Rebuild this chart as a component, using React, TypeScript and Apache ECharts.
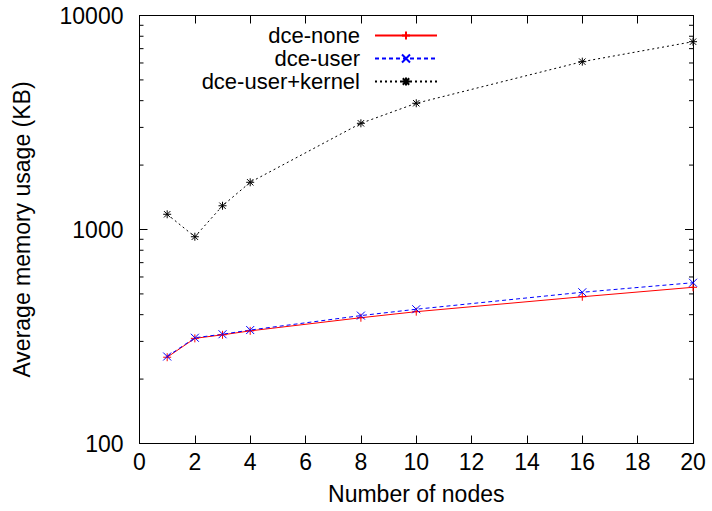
import React, { useEffect, useRef } from "react";
import * as echarts from "echarts";

const nodes = [1, 2, 3, 4, 8, 10, 16, 20];
const dceNone = [253, 310, 322, 336, 387, 413, 485, 537];
const dceUser = [255, 312, 324, 339, 396, 424, 509, 564];
const dceUserKernel = [1178, 925, 1291, 1662, 3135, 3890, 6085, 7545];
const xTicks = [0, 2, 4, 6, 8, 10, 12, 14, 16, 18, 20];
const yMinorTicks = [200, 300, 400, 500, 600, 700, 800, 900, 2000, 3000, 4000, 5000, 6000, 7000, 8000, 9000];

const FONT = "Liberation Sans, Arial, sans-serif";
const FS = 23;

const PLUS = "path://M0,5L10,5M5,0L5,10";
const CROSS = "path://M0,0L10,10M0,10L10,0";
const STAR = "path://M0,5L10,5M5,0L5,10M1,1L9,9M1,9L9,1";

export default function App() {
  const ref = useRef<HTMLDivElement>(null);
  useEffect(() => {
    if (!ref.current) return;
    const chart = echarts.init(ref.current, null, { renderer: "svg" });
    const pairs = (ys: number[]) => nodes.map((x, i) => [x, ys[i]]);
    const axisLine = { show: true, onZero: false, lineStyle: { color: "#000", width: 1 } };
    const mkLine = (name: string, ys: number[], color: string, type: any, symbol: string) => ({
      name,
      type: "line",
      data: pairs(ys),
      xAxisIndex: 0,
      yAxisIndex: 0,
      symbol,
      symbolSize: 8,
      lineStyle: { color, width: 1, type },
      itemStyle: { color: "none", borderColor: color, borderWidth: 1 },
      emphasis: { disabled: true },
      z: 3,
    });
    chart.setOption({
      animation: false,
      grid: { left: 139.5, right: 19, top: 15.5, bottom: 67.5, outerBoundsMode: "none" },
      legend: {
        orient: "vertical",
        right: 269,
        top: 19,
        align: "right",
        itemWidth: 62,
        itemHeight: 10,
        itemGap: 0,
        data: ["dce-none", "dce-user", "dce-user+kernel"],
        textStyle: { fontFamily: FONT, fontSize: 22, color: "#000", lineHeight: 23, padding: [0, 10, 0, 0] },
      },
      xAxis: [
        {
          type: "value",
          min: 0,
          max: 20,
          interval: 2,
          position: "bottom",
          axisLine,
          axisTick: { show: true, inside: true, length: 8, lineStyle: { color: "#000" } },
          splitLine: { show: false },
          axisLabel: {
            fontFamily: FONT,
            fontSize: FS,
            color: "#000",
            margin: 7,
            formatter: (v: number) => (xTicks.includes(v) ? String(v) : ""),
          },
          name: "Number of nodes",
          nameLocation: "middle",
          nameGap: 39,
          nameTextStyle: { fontFamily: FONT, fontSize: FS, color: "#000" },
        },
        {
          type: "value",
          min: 0,
          max: 20,
          interval: 2,
          position: "top",
          axisLine,
          axisTick: { show: true, inside: true, length: 8, lineStyle: { color: "#000" } },
          splitLine: { show: false },
          axisLabel: { show: false },
        },
      ],
      yAxis: [
        {
          type: "log",
          logBase: 10,
          min: 100,
          max: 10000,
          position: "left",
          axisLine,
          axisTick: { show: true, inside: true, length: 8, lineStyle: { color: "#000" } },
          splitLine: { show: false },
          minorTick: { show: false },
          axisLabel: {
            fontFamily: FONT,
            fontSize: FS,
            color: "#000",
            margin: 16,
            formatter: (v: number) => String(Math.round(v)),
          },
          name: "Average memory usage (KB)",
          nameLocation: "middle",
          nameGap: 106,
          nameTextStyle: { fontFamily: FONT, fontSize: FS, color: "#000" },
        },
        {
          type: "log",
          logBase: 10,
          min: 100,
          max: 10000,
          position: "right",
          axisLine,
          axisTick: { show: true, inside: true, length: 8, lineStyle: { color: "#000" } },
          splitLine: { show: false },
          axisLabel: { show: false },
        },
      ],
      series: [
        mkLine("dce-none", dceNone, "#ff0000", "solid", PLUS),
        mkLine("dce-user", dceUser, "#0000ff", [4, 3], CROSS),
        mkLine("dce-user+kernel", dceUserKernel, "#000000", [2, 3], STAR),
        {
          type: "custom",
          name: "minor",
          xAxisIndex: 0,
          yAxisIndex: 0,
          data: yMinorTicks.map((v) => [0, v]),
          silent: true,
          clip: false,
          renderItem: (params: any, api: any) => {
            const v = api.value(1);
            const l = api.coord([0, v]);
            const r = api.coord([20, v]);
            const st = { stroke: "#000", lineWidth: 1 };
            return {
              type: "group",
              children: [
                { type: "line", shape: { x1: l[0], y1: l[1], x2: l[0] + 4, y2: l[1] }, style: st },
                { type: "line", shape: { x1: r[0], y1: r[1], x2: r[0] - 4, y2: r[1] }, style: st },
              ],
            };
          },
        },
      ],
    });
    return () => chart.dispose();
  }, []);
  return (
    <div
      ref={ref}
      style={{ position: "fixed", left: 0, top: 0, width: 712, height: 511, background: "#fff" }}
    />
  );
}
